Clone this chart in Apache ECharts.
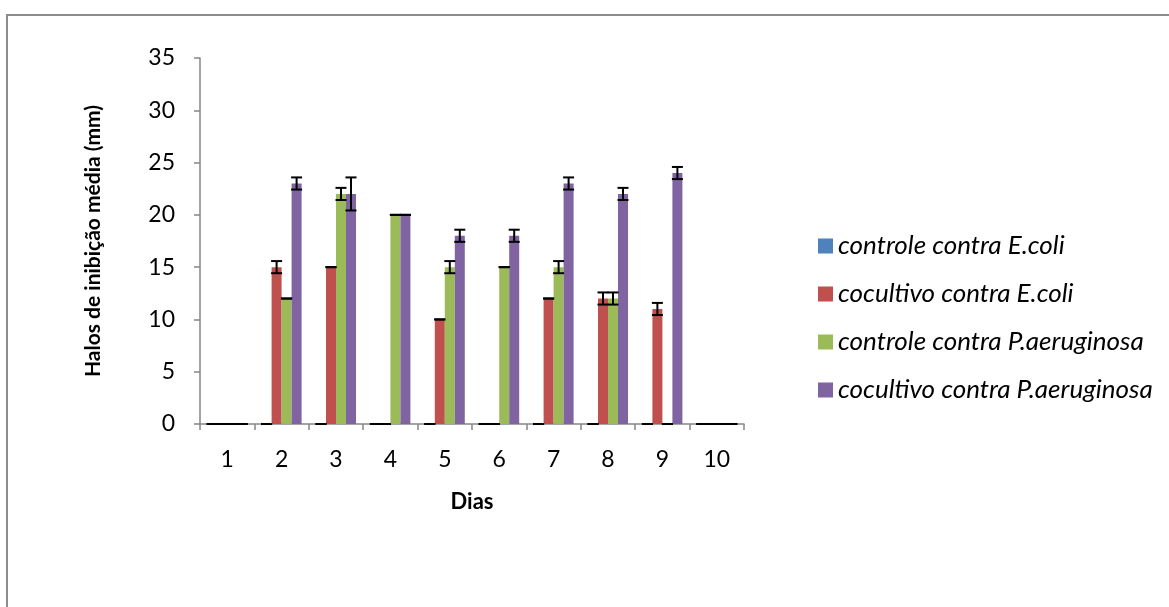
<!DOCTYPE html>
<html>
<head>
<meta charset="utf-8">
<script src="https://cdn.jsdelivr.net/npm/echarts@6/dist/echarts.min.js"></script>
<style>
html,body{margin:0;padding:0;background:#fff;}
#chart{width:1169px;height:607px;}
</style>
</head>
<body>
<div id="chart"></div>
<script>
var days = ['1','2','3','4','5','6','7','8','9','10'];
var seriesNames = ['controle contra E.coli','cocultivo contra E.coli','controle contra P.aeruginosa','cocultivo contra P.aeruginosa'];
var controleEcoli = [0,0,0,0,0,0,0,0,0,0];
var cocultivoEcoli = [0,15,15,0,10,0,12,12,11,0];
var controlePa = [0,12,22,20,15,15,15,12,0,0];
var cocultivoPa = [0,23,22,20,18,18,23,22,24,0];
var errControleEcoli = [0,0,0,0,0,0,0,0,0,0];
var errCocultivoEcoli = [0,0.58,0,0,0,0,0,0.58,0.58,0];
var errControlePa = [0,0,0.58,0,0.58,0,0.58,0.58,0,0];
var errCocultivoPa = [0,0.58,1.58,0,0.58,0.58,0.58,0.58,0.58,0];
var yTicks = [0,5,10,15,20,25,30,35];
var colors = ['#4F81BD','#C0504D','#9BBB59','#8064A2'];

var values = [controleEcoli, cocultivoEcoli, controlePa, cocultivoPa];
var errors = [errControleEcoli, errCocultivoEcoli, errControlePa, errCocultivoPa];
var BAR_W = 10;
var FONT = 'Lato, "Open Sans", sans-serif';

var series = [];
values.forEach(function(v, i){
  series.push({
    name: seriesNames[i], type: 'bar', data: v, barWidth: BAR_W, barGap: '0%',
    itemStyle: {color: colors[i]}, z: 2
  });
});
values.forEach(function(v, i){
  var d = v.map(function(val, k){ return [k, val - errors[i][k], val + errors[i][k]]; });
  series.push({
    type: 'custom', z: 5, silent: true,
    data: d,
    encode: {x: 0, y: [1, 2]},
    renderItem: function(params, api){
      var off = (i - 1.5) * BAR_W;
      var lo = api.coord([api.value(0), api.value(1)]);
      var hi = api.coord([api.value(0), api.value(2)]);
      var x = lo[0] + off;
      var hw = 5.5;
      var st = {stroke: '#000', lineWidth: 2};
      return {type: 'group', children: [
        {type: 'line', shape: {x1: x, y1: hi[1], x2: x, y2: lo[1]}, style: st},
        {type: 'line', shape: {x1: x - hw, y1: hi[1], x2: x + hw, y2: hi[1]}, style: st},
        {type: 'line', shape: {x1: x - hw, y1: lo[1], x2: x + hw, y2: lo[1]}, style: st}
      ]};
    }
  });
});

var chart = echarts.init(document.getElementById('chart'));
chart.setOption({
  animation: false,
  backgroundColor: '#fff',
  grid: {left: 200, right: 425, top: 58, bottom: 183, containLabel: false},
  legend: {
    orient: 'vertical', left: 813, top: 228, itemWidth: 15, itemHeight: 15, itemGap: 22,
    data: seriesNames,
    icon: 'rect',
    textStyle: {fontFamily: FONT, fontStyle: 'italic', fontSize: 26, color: '#000'}
  },
  xAxis: {
    type: 'category', data: days, boundaryGap: true,
    name: 'Dias', nameLocation: 'middle', nameGap: 67,
    nameTextStyle: {fontFamily: FONT, fontWeight: 'bold', fontSize: 22, color: '#000'},
    axisLine: {lineStyle: {color: '#868686', width: 1.5}},
    axisTick: {show: true, interval: 0, length: 6, lineStyle: {color: '#868686', width: 1.5}},
    axisLabel: {interval: 0, margin: 24, fontFamily: FONT, fontSize: 23, color: '#000'},
    splitLine: {show: false}
  },
  yAxis: {
    type: 'value', min: 0, max: 35, interval: 5,
    name: 'Halos de inibição média (mm)', nameLocation: 'middle', nameGap: 96, nameRotate: 90,
    nameTextStyle: {fontFamily: FONT, fontWeight: 'bold', fontSize: 21, color: '#000'},
    axisLine: {show: true, lineStyle: {color: '#868686', width: 1.5}},
    axisTick: {show: true, length: 6, lineStyle: {color: '#868686', width: 1.5}},
    axisLabel: {margin: 25, fontFamily: FONT, fontSize: 23, color: '#000',
      formatter: function(v){ return yTicks.indexOf(v) >= 0 ? String(v) : ''; }},
    splitLine: {show: false}
  },
  graphic: [
    {type: 'line', shape: {x1: 6, y1: 15, x2: 1169, y2: 15}, style: {stroke: '#8c8c8c', lineWidth: 2}},
    {type: 'line', shape: {x1: 7, y1: 14, x2: 7, y2: 607}, style: {stroke: '#8c8c8c', lineWidth: 2}}
  ],
  series: series
});
</script>
</body>
</html>
